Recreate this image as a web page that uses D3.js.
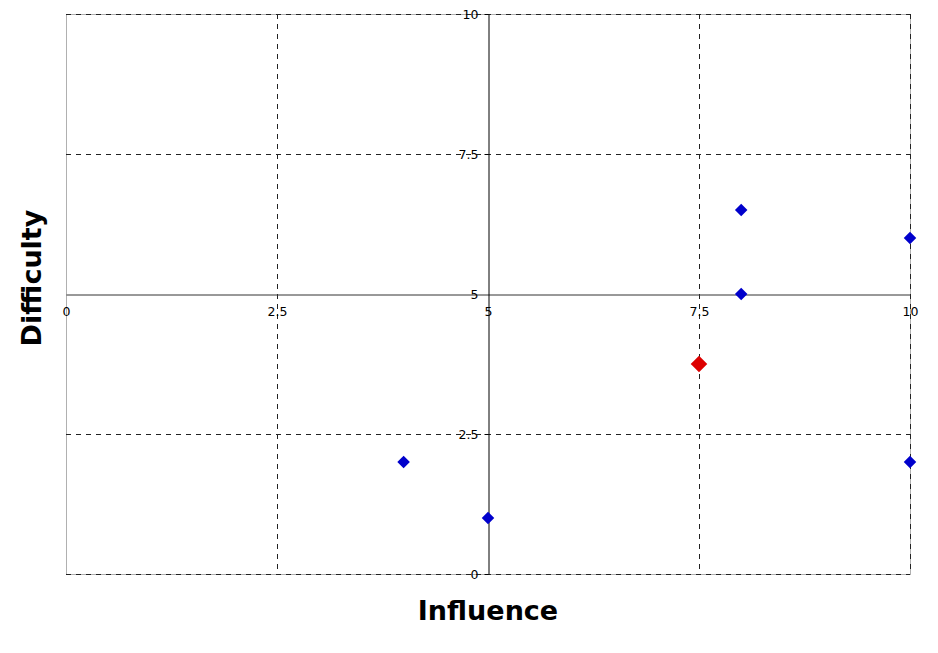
<!DOCTYPE html>
<html><head><meta charset="utf-8">
<script src="https://cdn.jsdelivr.net/npm/d3@7"></script>
<style>body{margin:0;background:#fff;} svg{display:block;}</style>
</head><body>
<svg id="chart" width="938" height="653"></svg>
<script>
const xTicks = [0, 2.5, 5, 7.5, 10];
const yTicks = [0, 2.5, 5, 7.5, 10];
const xTickLabels = ["0", "2.5", "5", "7.5", "10"];
const yTickLabels = ["0", "2.5", "5", "7.5", "10"];
const blueX = [8, 10, 8, 4, 5, 10];
const blueY = [6.5, 6, 5, 2, 1, 2];
const redX = [7.5];
const redY = [3.75];
const xTitle = "Influence";
const yTitle = "Difficulty";

const svg = d3.select("#chart");
const pL = 66, pR = 910, pT = 14, pB = 574;
const x = d3.scaleLinear().domain([0, 10]).range([pL, pR]);
const y = d3.scaleLinear().domain([0, 10]).range([pB, pT]);
const font = "Verdana, 'DejaVu Sans', sans-serif";

// plot border
svg.append("rect").attr("x", pL + 0.5).attr("y", pT + 0.5).attr("width", pR - pL).attr("height", pB - pT)
  .attr("fill", "none").attr("stroke", "#b0b0b0").attr("stroke-width", 1);

// gridlines
const g = svg.append("g");
g.selectAll("line.vg").data(xTicks.filter(d => d !== 5 && d !== 0)).enter().append("line")
  .attr("x1", d => Math.round(x(d)) + 0.5).attr("x2", d => Math.round(x(d)) + 0.5)
  .attr("y1", pT).attr("y2", pB)
  .attr("stroke", "#222").attr("stroke-dasharray", "5,5");
g.selectAll("line.hg").data(yTicks.filter(d => d !== 5)).enter().append("line")
  .attr("y1", d => Math.round(y(d)) + 0.5).attr("y2", d => Math.round(y(d)) + 0.5)
  .attr("x1", pL).attr("x2", pR)
  .attr("stroke", "#222").attr("stroke-dasharray", "5,5");

// x axis at y=5
const xAxis = d3.axisBottom(x).tickValues(xTicks).tickFormat((d, i) => xTickLabels[i]).tickSize(0).tickPadding(13);
const xa = svg.append("g").attr("transform", `translate(0,${Math.round(y(5)) + 0.5})`).call(xAxis);
xa.select(".domain").attr("stroke", "#333");
xa.selectAll("text").attr("font-family", font).attr("font-size", 12.5).attr("fill", "#000");

// y axis at x=5
const yAxis = d3.axisLeft(y).tickValues(yTicks).tickFormat((d, i) => yTickLabels[i]).tickSize(4).tickSizeOuter(0).tickPadding(6);
const ya = svg.append("g").attr("transform", `translate(${Math.round(x(5)) + 0.5},0)`).call(yAxis);
ya.select(".domain").attr("stroke", "#000");
ya.selectAll(".tick line").attr("stroke", "#000");
ya.selectAll(".tick").filter(d => d === 5).select("line").remove();
ya.selectAll("text").attr("font-family", font).attr("font-size", 12.5).attr("fill", "#000");

// points
const diamond = d3.symbol().type(d3.symbolDiamond2);
svg.selectAll("path.blue").data(blueX.map((v, i) => [v, blueY[i]])).enter().append("path")
  .attr("d", diamond.size(100)())
  .attr("transform", d => `translate(${x(d[0])},${y(d[1])})`)
  .attr("fill", "#0000cc");
svg.selectAll("path.red").data(redX.map((v, i) => [v, redY[i]])).enter().append("path")
  .attr("d", diamond.size(175)())
  .attr("transform", d => `translate(${x(d[0])},${y(d[1])})`)
  .attr("fill", "#dd0000");

// titles
svg.append("text").attr("x", (pL + pR) / 2).attr("y", 620).attr("text-anchor", "middle")
  .attr("font-family", font).attr("font-weight", "bold").attr("font-size", 27).text(xTitle);
svg.append("text").attr("transform", `translate(41,278) rotate(-90)`).attr("text-anchor", "middle")
  .attr("font-family", font).attr("font-weight", "bold").attr("font-size", 27).text(yTitle);
</script>
</body></html>
